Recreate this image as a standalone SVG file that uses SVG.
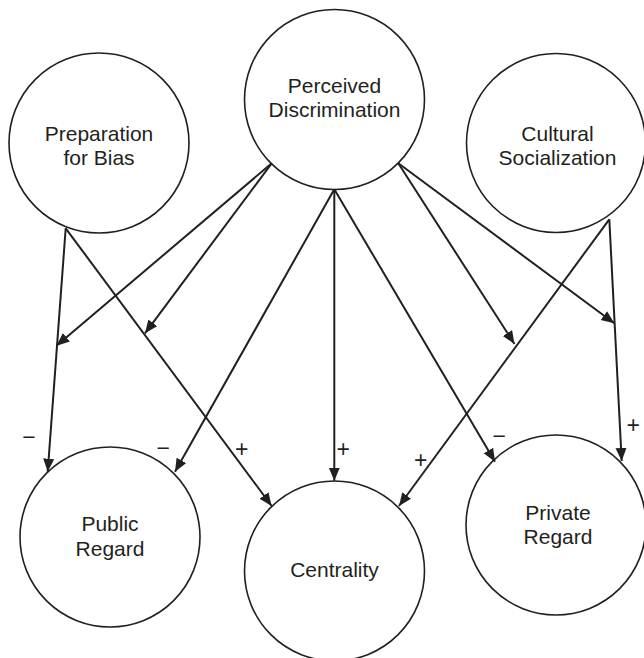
<svg xmlns="http://www.w3.org/2000/svg" width="644" height="658" viewBox="0 0 644 658">
<defs>
<style>
.node{fill:#fff;stroke:#231f20;stroke-width:1.6}
.lbl{font-family:"Liberation Sans",Arial,sans-serif;font-size:21px;fill:#231f20;text-anchor:middle}
.sign{font-family:"Liberation Sans",Arial,sans-serif;font-size:23px;fill:#231f20;text-anchor:middle}
.edge{stroke:#231f20;stroke-width:2;fill:none;marker-end:url(#arr)}
</style>
<marker id="arr" markerUnits="userSpaceOnUse" markerWidth="14" markerHeight="12" refX="13" refY="5.5" orient="auto">
<path d="M0,0 L13,5.5 L0,11 z" fill="#231f20"/>
</marker>
</defs>
<rect width="644" height="658" fill="#fff"/>
<g id="prep"><circle class="node" cx="99" cy="143" r="90"/><text class="lbl" x="99" y="141">Preparation</text><text class="lbl" x="99" y="164.5">for Bias</text></g>
<g id="perceived"><circle class="node" cx="334.5" cy="99.5" r="90"/><text class="lbl" x="334.5" y="92.5">Perceived</text><text class="lbl" x="334.5" y="116.5">Discrimination</text></g>
<g id="cultural"><circle class="node" cx="556" cy="143" r="89.5"/><text class="lbl" x="557.5" y="141">Cultural</text><text class="lbl" x="557.5" y="164.5">Socialization</text></g>
<g id="public"><circle class="node" cx="110" cy="537" r="90"/><text class="lbl" x="110" y="531">Public</text><text class="lbl" x="110" y="556">Regard</text></g>
<g id="centrality"><circle class="node" cx="334.5" cy="571" r="90"/><text class="lbl" x="334.5" y="577">Centrality</text></g>
<g id="private"><circle class="node" cx="556" cy="525" r="90"/><text class="lbl" x="558" y="520">Private</text><text class="lbl" x="558" y="544">Regard</text></g>
<g id="connectors">
<line class="edge" x1="65.7" y1="228.3" x2="47.7" y2="471.7"/>
<line class="edge" x1="65.7" y1="228.3" x2="271.7" y2="506"/>
<line class="edge" x1="271.7" y1="163.3" x2="56.5" y2="345.7"/>
<line class="edge" x1="271.7" y1="163.3" x2="145" y2="333.3"/>
<line class="edge" x1="334.3" y1="189.3" x2="175" y2="471.7"/>
<line class="edge" x1="334.3" y1="189.3" x2="334.3" y2="480.7"/>
<line class="edge" x1="334.3" y1="189.3" x2="495" y2="461.7"/>
<line class="edge" x1="398.3" y1="163.3" x2="514.5" y2="344"/>
<line class="edge" x1="398.3" y1="163.3" x2="614.3" y2="323.3"/>
<line class="edge" x1="609.3" y1="219.3" x2="399" y2="506"/>
<line class="edge" x1="609.3" y1="219.3" x2="621.7" y2="461"/>
</g>
<g id="signs">
<text class="sign" x="29" y="444.5">−</text>
<text class="sign" x="163.3" y="455.5">−</text>
<text class="sign" x="241.7" y="456.8">+</text>
<text class="sign" x="343.3" y="456.8">+</text>
<text class="sign" x="420.7" y="467.8">+</text>
<text class="sign" x="499.3" y="443.8">−</text>
<text class="sign" x="633.3" y="432.8">+</text>
</g>
</svg>
